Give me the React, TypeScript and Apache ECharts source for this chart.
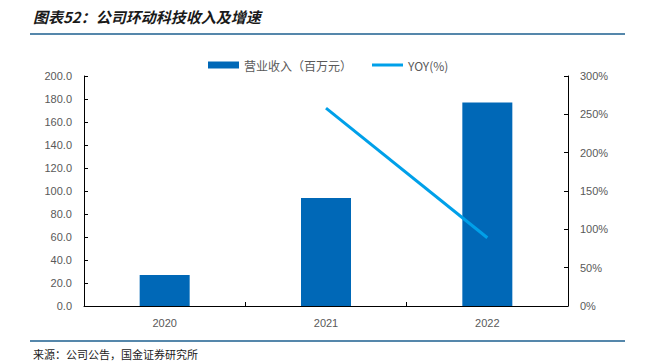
import React, { useEffect, useRef } from "react";
import * as echarts from "echarts";

const categories = ["2020", "2021", "2022"];
const revenue = [27.0, 94.0, 177.0];
const yoy = [null, 258, 89];

export default function App() {
  const ref = useRef<HTMLDivElement>(null);
  useEffect(() => {
    if (!ref.current) return;
    const chart = echarts.init(ref.current, null, { renderer: "svg" });
    const labelColor = "#595959";
    chart.setOption({
      animation: false,
      textStyle: { fontFamily: "Arial, 'Liberation Sans', 'Noto Sans CJK SC', sans-serif" },
      graphic: [
        {
          type: "text",
          left: 33,
          top: 9,
          style: {
            text: "图表52：公司环动科技收入及增速",
            fontSize: 15,
            fontWeight: "bold",
            fontStyle: "italic",
            fill: "#1a1a1a",
            fontFamily: "'Noto Sans CJK SC', sans-serif",
          },
        },
        {
          type: "line",
          shape: { x1: 30, y1: 34, x2: 625, y2: 34 },
          style: { stroke: "#1d5f8f", lineWidth: 1.5 },
        },
        {
          type: "line",
          shape: { x1: 30, y1: 341, x2: 625, y2: 341 },
          style: { stroke: "#1d5f8f", lineWidth: 1.5 },
        },
        {
          type: "text",
          left: 33,
          top: 348,
          style: {
            text: "来源：公司公告，国金证券研究所",
            fontSize: 11,
            fill: "#1a1a1a",
            fontFamily: "'Noto Sans CJK SC', sans-serif",
          },
        },
      ],
      legend: {
        top: 54,
        left: 203,
        itemGap: 20,
        itemWidth: 31,
        itemHeight: 7,
        textStyle: { color: labelColor, fontSize: 12, fontFamily: "'Noto Sans CJK SC', sans-serif" },
        data: [
          { name: "营业收入（百万元）", icon: "rect" },
          { name: "YOY(%)", icon: "path://M0,0H31V3H0Z" },
        ],
      },
      grid: { left: 84, right: 81, top: 76, bottom: 57 },
      xAxis: {
        type: "category",
        data: categories,
        axisLine: { lineStyle: { color: "#000", width: 1 } },
        axisTick: { show: true, inside: true, length: 4, lineStyle: { color: "#000" } },
        axisLabel: { color: labelColor, fontSize: 11, margin: 11 },
      },
      yAxis: [
        {
          type: "value",
          min: 0,
          max: 200,
          interval: 20,
          splitLine: { show: false },
          axisLine: { show: true, lineStyle: { color: "#000" } },
          axisTick: { show: true, inside: true, length: 4, lineStyle: { color: "#000" } },
          axisLabel: { color: labelColor, fontSize: 11, formatter: (v: number) => v.toFixed(1), margin: 12 },
        },
        {
          type: "value",
          min: 0,
          max: 300,
          interval: 50,
          splitLine: { show: false },
          axisLine: { show: true, lineStyle: { color: "#000" } },
          axisTick: { show: true, inside: true, length: 4, lineStyle: { color: "#000" } },
          axisLabel: { color: labelColor, fontSize: 11, formatter: (v: number) => v + "%", margin: 12 },
        },
      ],
      series: [
        {
          name: "营业收入（百万元）",
          type: "bar",
          data: revenue,
          barWidth: 50,
          itemStyle: { color: "#0068b7" },
        },
        {
          name: "YOY(%)",
          type: "line",
          yAxisIndex: 1,
          data: yoy,
          symbol: "none",
          lineStyle: { color: "#00a0e9", width: 3 },
          itemStyle: { color: "#00a0e9" },
        },
      ],
    });
    return () => chart.dispose();
  }, []);
  return (
    <div
      ref={ref}
      style={{ position: "absolute", left: 0, top: 0, width: 649, height: 363 }}
    />
  );
}
